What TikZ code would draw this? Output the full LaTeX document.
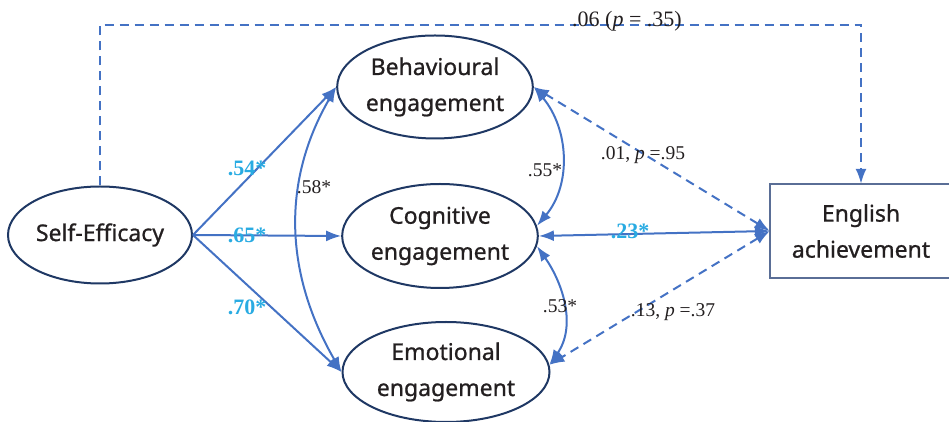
\documentclass[tikz,border=0pt]{standalone}
\usepackage{fontspec}
\setmainfont{Liberation Serif}
\newfontfamily\varfont[FakeBold=0.9]{Noto Sans}
\usepackage{xcolor}
\usepackage{tikz}
\usetikzlibrary{arrows.meta}
\usetikzlibrary{shapes.geometric}
\definecolor{pathblue}{HTML}{4472C4}
\definecolor{navy}{HTML}{1F3864}
\definecolor{boxline}{HTML}{5A6E96}
\definecolor{coefcyan}{HTML}{29ABE2}
\definecolor{ink}{HTML}{231F20}

\begin{document}
\begin{tikzpicture}[x=1pt, y=1pt,
    latent/.style={ellipse, draw=navy, line width=2pt, align=center, inner sep=0pt, text=ink, font=\varfont\fontsize{23}{36}\selectfont},
    observed/.style={rectangle, align=center, inner sep=0pt, text=ink, font=\varfont\fontsize{23}{36}\selectfont},
    effect/.style={pathblue, line width=2pt, -{Latex[length=15pt, width=11pt]}},
    corr/.style={pathblue, line width=2pt, {Latex[length=15pt, width=11pt]}-{Latex[length=15pt, width=11pt]}},
    nsig/.style={dash pattern=on 9pt off 6pt},
    coef/.style={inner sep=0pt, text=coefcyan, font=\bfseries\fontsize{22}{22}\selectfont},
    est/.style={inner sep=0pt, text=ink, font=\fontsize{19.5}{20}\selectfont}]
    \clip (0, 0) rectangle (949, 422);
    \node[latent, minimum width=184pt, minimum height=97pt] (se) at (100, 187) {Self-Efficacy};
    \node[latent, minimum width=184pt, minimum height=103pt] (beh) at (435, 335) {Behavioural\\engagement};
    \node[latent, minimum width=194pt, minimum height=104pt] (cog) at (440, 186) {Cognitive\\engagement};
    \node[latent, minimum width=207pt, minimum height=100pt] (emo) at (446, 50) {Emotional\\engagement};
    \node[observed, minimum width=182pt, minimum height=94pt] (eng) at (861, 191) {English\\achievement};
    \draw[boxline, line width=1.5pt] ([xshift=20pt]eng.north east) -- (eng.north west) -- (eng.south west) -- ([xshift=20pt]eng.south east);
    \coordinate (topline) at (0, 397);
    \draw[effect] (se.east) -- (beh.west);
    \draw[effect] (se.east) -- (cog.west);
    \draw[effect] (se.east) -- (emo.west);
    \draw[corr] (beh.west) to[out=240, in=120] (emo.west);
    \draw[corr] (beh.east) to[out=-50, in=50] (cog.6);
    \draw[corr] (cog.-6) to[out=-55, in=55] (emo.4);
    \draw[corr] (eng.west) -- (cog.east);
    \draw[corr, nsig] (eng.west) -- (beh.east);
    \draw[corr, nsig] (eng.west) -- (emo.4);
    \draw[effect, nsig] (se.north) -- (se.north |- topline) -| (eng.north);
    \node[coef] (b1) at (247, 254) {.54*};
    \node[coef] (b2) at (247, 187) {.65*};
    \node[coef] (b3) at (247, 115) {.70*};
    \node[coef] (b4) at (630, 191) {.23*};
    \node[est] (r1) at (314, 235) {.58*};
    \node[est] (r2) at (545, 252) {.55*};
    \node[est] (r3) at (560, 116) {.53*};
    \node[est] (b5) at (643, 267) {.01, \textit{p} =.95};
    \node[est] (b6) at (673, 110) {.13, \textit{p} =.37};
    \node[est, font=\fontsize{22}{22}\selectfont] (b7) at (627, 401) {.06 (\textit{p} = .35)};
\end{tikzpicture}
\end{document}
